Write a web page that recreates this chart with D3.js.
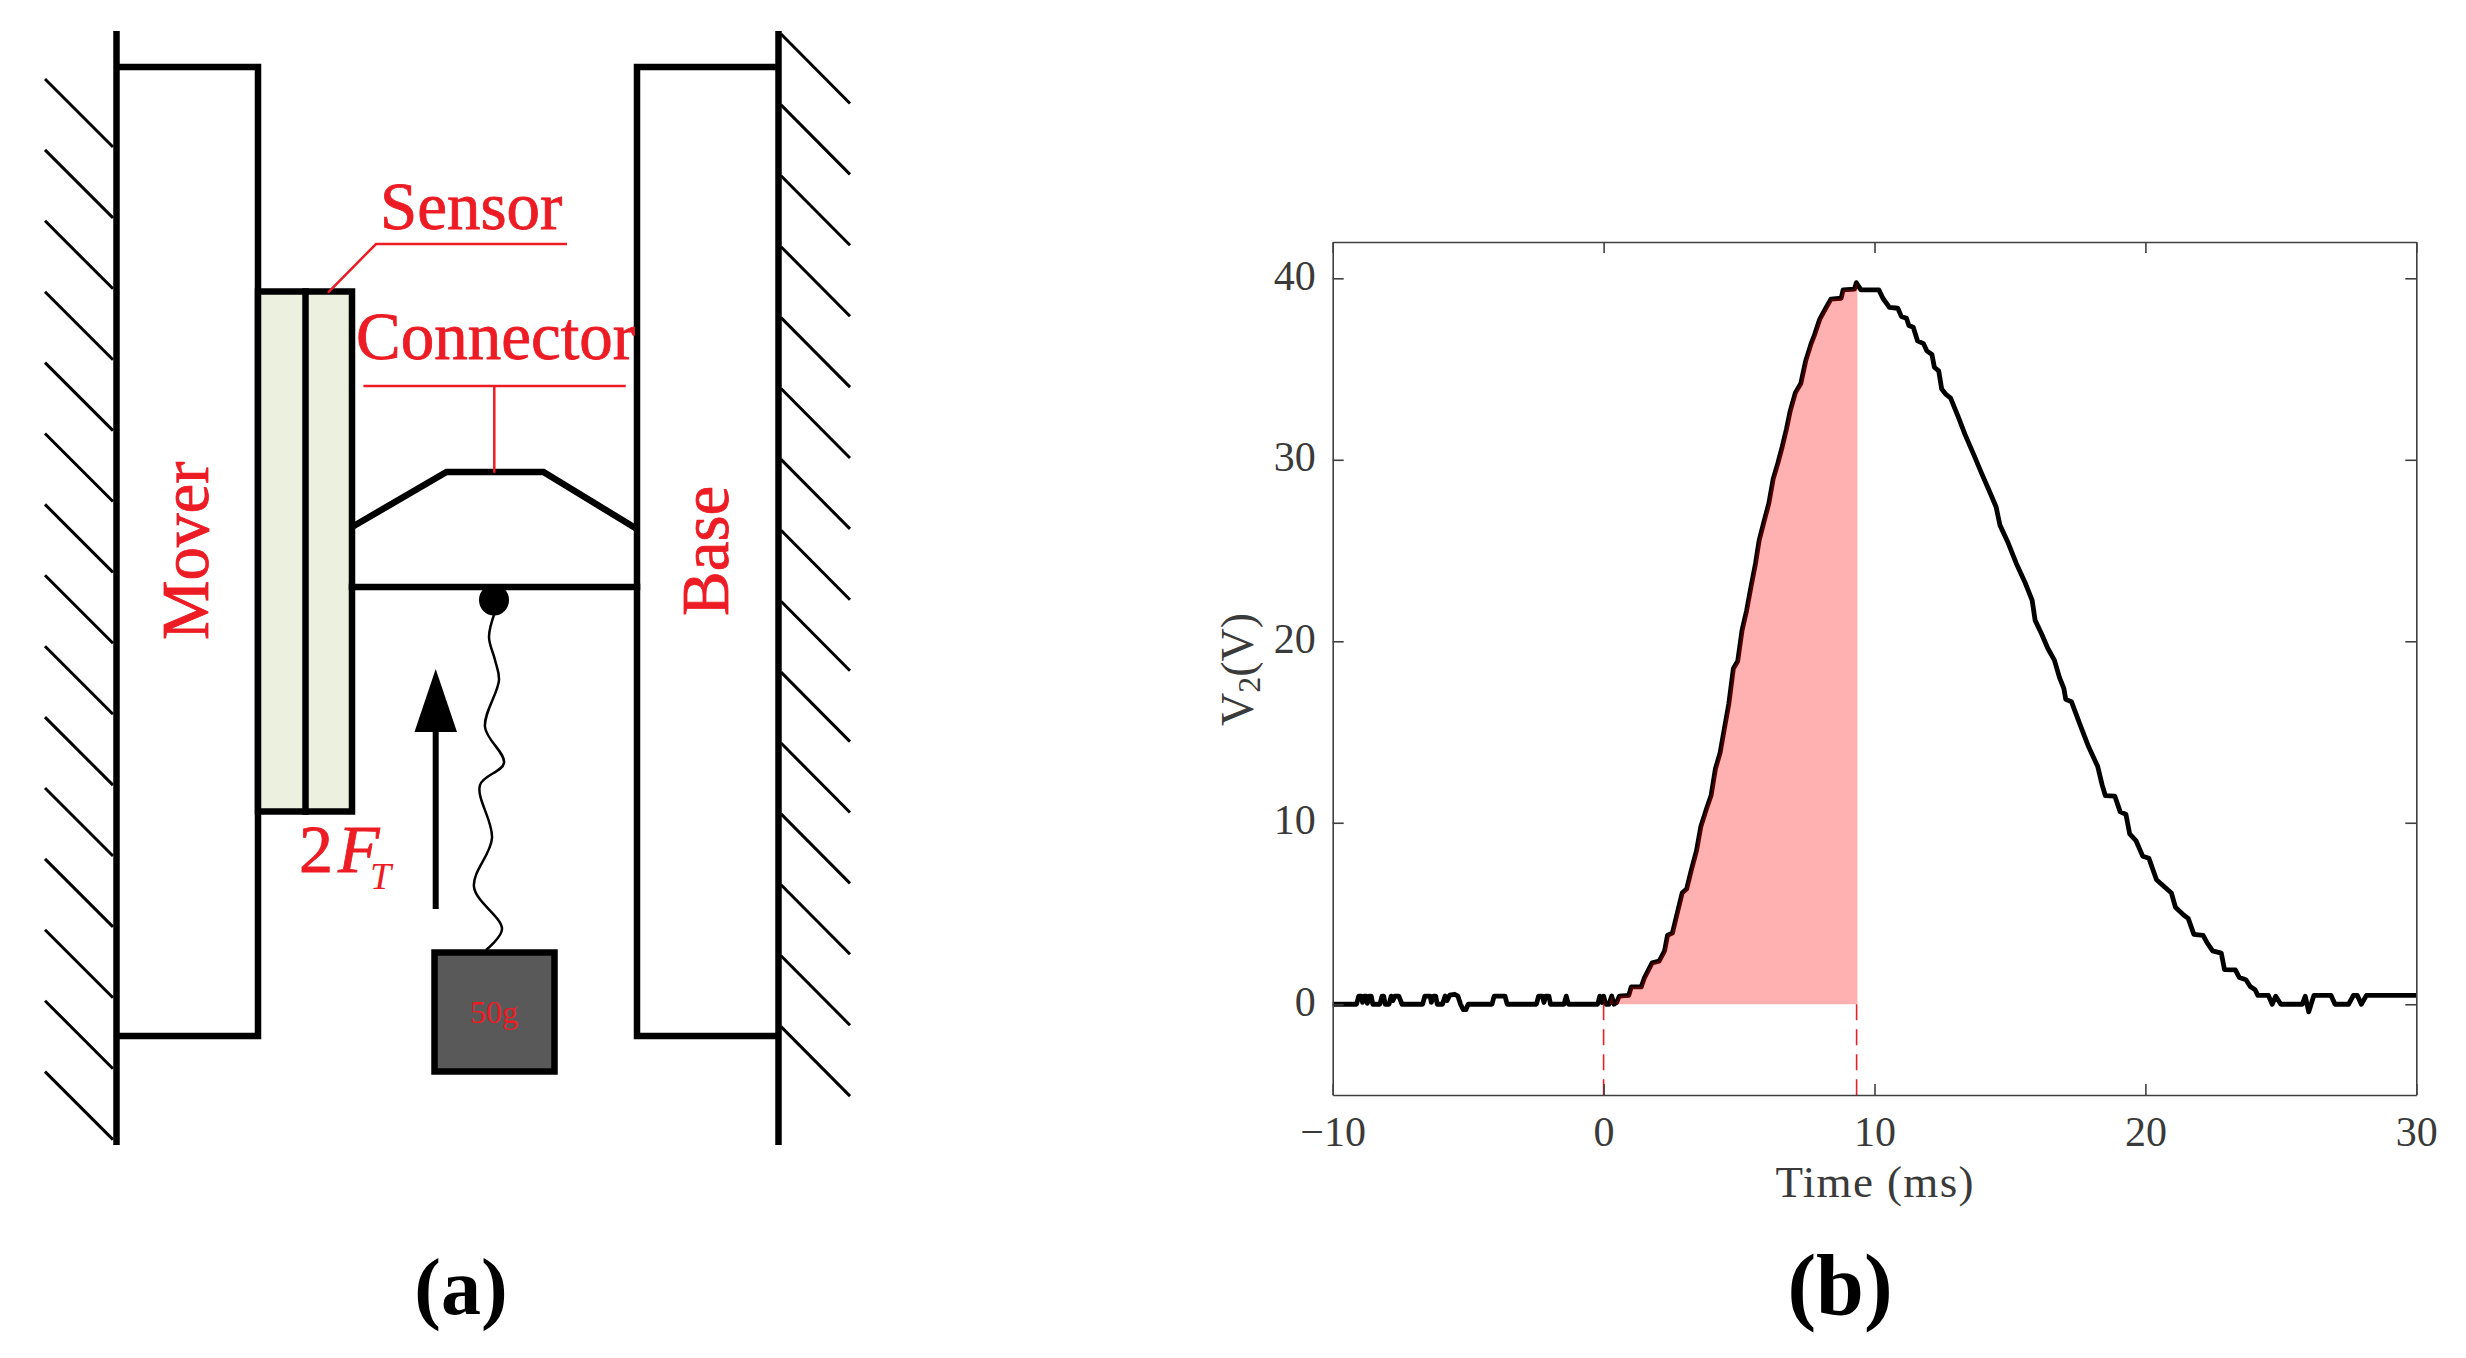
<!DOCTYPE html>
<html>
<head>
<meta charset="utf-8">
<script src="https://cdn.jsdelivr.net/npm/d3@7"></script>
<style>
    html, body { margin: 0; padding: 0; background: #fff; }
    svg { display: block; }
</style>
</head>
<body>
<svg id="fig"></svg>
<script>
//trace values
var TIMES = [-10, -9.12, -9.04, -8.94, -8.9, -8.84, -8.76, -8.72, -8.66, -8.58, -8.52,
    -8.26, -8.18, -8.12, -8.06, -7.92, -7.84, -7.78, -7.7, -7.56, -7.44,
    -6.68, -6.6, -6.4, -6.36, -6.28, -6.2, -6.14, -5.95, -5.85, -5.78, -5.68, -5.5, -5.38, -5.28, -5.18, -5.08, -5,
    -4.12, -4.04, -3.64, -3.56, -2.48, -2.4, -2.26, -2.2, -2.14, -2.02, -1.96,
    -1.46, -1.38, -1.3, -0.22, -0.14, -0.06, 0, 0.08, 0.2, 0.3, 0.38, 0.48, 0.58,
    0.93, 1.02, 1.39, 1.51, 1.79, 2.05, 2.25, 2.36, 2.54, 2.74, 2.9, 3.07, 3.23, 3.43, 3.59, 3.8, 3.97,
    4.13, 4.3, 4.46, 4.62, 4.79, 4.95, 5.11, 5.28, 5.44, 5.61, 5.74, 5.93, 6.1, 6.26, 6.43, 6.59, 6.75, 6.89,
    7.08, 7.28, 7.46, 7.66, 7.79, 7.98, 8.2, 8.39, 8.77, 8.84, 9.26, 9.33, 9.37,
    9.5, 10.16, 10.31, 10.55, 10.86, 10.99, 11.18, 11.27, 11.43, 11.59, 11.81, 11.93, 12.12, 12.21, 12.37, 12.48, 12.64, 12.81,
    13.11, 13.34, 13.66, 13.97, 14.29, 14.49, 14.63, 14.91, 15.23, 15.54, 15.82, 15.93, 16.17, 16.4, 16.64,
    16.83, 16.99, 17.06, 17.27, 17.58, 17.9, 18.24, 18.4, 18.52, 18.87, 19.07, 19.28, 19.42, 19.65, 19.9,
    20.13, 20.41, 20.72, 20.96, 21.11, 21.42, 21.58, 21.79, 22.13, 22.29, 22.48, 22.8, 22.92, 23.32, 23.47, 23.71, 23.87, 24.05, 24.15,
    24.54, 24.68, 24.81, 25, 25.79, 25.9, 26.03, 26.22, 26.85, 27, 27.5, 27.68, 27.82, 27.97, 28.16, 30];
var VOLTS = [0, 0, 0.45, 0.45, 0.1, 0.45, 0.45, 0.05, 0.45, 0.45, 0,
    0, 0.45, 0.45, 0, 0, 0.45, 0.2, 0.45, 0.45, 0,
    0, 0.45, 0.45, 0.1, 0.45, 0.45, 0, 0, 0.45, 0.2, 0.5, 0.55, 0.45, 0, -0.3, -0.3, 0,
    0, 0.45, 0.45, 0, 0, 0.45, 0.45, 0.1, 0.45, 0.45, 0,
    0, 0.45, 0, 0, 0.45, 0.1, 0.45, 0, 0, 0.45, 0, 0.1, 0.45,
    0.49, 0.96, 0.96, 1.47, 2.28, 2.38, 2.94, 3.8, 3.92, 5.15, 6.13, 6.37, 7.35, 8.46, 9.8, 10.78, 11.52,
    12.99, 13.85, 15.2, 16.54, 18.5, 18.9, 20.6, 21.7, 23, 24.3, 25.55, 26.65, 27.6, 28.95, 29.8, 30.7, 31.7, 32.7,
    33.7, 34.2, 35.45, 36.4, 36.9, 37.75, 38.35, 38.85, 38.9, 39.36, 39.4, 39.76, 39.66,
    39.36, 39.36, 38.9, 38.4, 38.35, 37.9, 37.8, 37.4, 37.3, 36.55, 36.4, 36, 35.8, 35.1, 34.9, 33.9, 33.6, 33.4,
    32.3, 31.4, 30.3, 29.2, 28.1, 27.4, 26.4, 25.5, 24.3, 23.3, 22.25, 21.15, 20.4, 19.6, 18.96,
    18, 17.4, 16.8, 16.67, 15.44, 14.2, 13.1, 12.1, 11.5, 11.47, 10.6, 10.47, 9.39, 9.02, 8.16,
    8.04, 6.86, 6.45, 6.13, 5.34, 4.9, 4.73, 3.85, 3.8, 3.36, 2.94, 2.82, 1.91, 1.89, 1.47, 1.35, 0.98, 0.8, 0.49,
    0.49, 0, 0.44, 0, 0, 0.44, -0.42, 0.49, 0.49, 0, 0, 0.49, 0.49, 0, 0.49, 0.49];
var X_TICKS = [-10, 0, 10, 20, 30];
var Y_TICKS = [0, 10, 20, 30, 40];
var X_LIMITS = [-10, 30];
var Y_LIMITS = [-5, 42];
var SHADE_START = 0;
var SHADE_END = 9.37;
var MARKERS = [0, 9.34];

var WIDTH = 2466, HEIGHT = 1358;
var PLOT = { left: 1332.7, right: 2416.3, top: 242, bottom: 1095 };
var SERIF = "'Liberation Serif', serif";
var RED = "#ed1c24";
var AXIS_COLOR = "#404040";
var TEXT_COLOR = "#3a3a3a";

var svg = d3.select("#fig")
    .attr("width", WIDTH)
    .attr("height", HEIGHT)
    .attr("viewBox", "0 0 " + WIDTH + " " + HEIGHT);

drawSchematic();
drawTrace();
drawCaptions();

function segment(parent, x1, y1, x2, y2, color, width) {
    return parent.append("line")
        .attr("x1", x1).attr("y1", y1)
        .attr("x2", x2).attr("y2", y2)
        .style("stroke", color)
        .style("stroke-width", width)
        .style("stroke-linecap", "square");
}

function label(parent, txt, x, y, size, color) {
    return parent.append("text")
        .attr("x", x).attr("y", y)
        .style("font-family", SERIF)
        .style("font-size", size + "px")
        .style("fill", color)
        .text(txt);
}

//red labels on the rig are a little heavier than the plain font
function redLabel(parent, txt, x, y, size) {
    return label(parent, txt, x, y, size, RED)
        .style("stroke", RED)
        .style("stroke-width", 0.8);
}

//panel (a), the drawing of the test rig
function drawSchematic() {
    var g = svg.append("g").attr("class", "schematic");
    var i;

    //hatching behind both walls
    for (i = 0; i < 15; i++) {
        segment(g, 45, 79 + i * 70.9, 113, 147 + i * 70.9, "#000", 3).style("stroke-linecap", "butt");
        segment(g, 781, 34 + i * 70.9, 850, 103.5 + i * 70.9, "#000", 3).style("stroke-linecap", "butt");
    }
    //walls
    segment(g, 116.5, 31, 116.5, 1145, "#000", 6.5).style("stroke-linecap", "butt");
    segment(g, 778.5, 31, 778.5, 1145, "#000", 6.5).style("stroke-linecap", "butt");

    //mover and base outlines
    g.append("path")
        .attr("d", "M116.5,67H258V1036H116.5M778.5,67H637V1036H778.5")
        .style("fill", "none").style("stroke", "#000").style("stroke-width", 6.5);

    //sensor plates
    g.append("rect")
        .attr("x", 258).attr("y", 291.5)
        .attr("width", 94).attr("height", 520)
        .style("fill", "#ebf1de")
        .style("stroke", "#000").style("stroke-width", 6.5);
    segment(g, 305.5, 291.5, 305.5, 811.5, "#000", 6.5);

    //connector and beam
    g.append("path")
        .attr("d", "M352,527L446.5,472H543.5L637,529")
        .style("fill", "none").style("stroke", "#000").style("stroke-width", 6.5);
    segment(g, 352, 587, 637, 587, "#000", 6.5);
    g.append("ellipse")
        .attr("cx", 494).attr("cy", 600).attr("rx", 15).attr("ry", 15.5)
        .style("fill", "#000");

    //string down to the weight
    var stringPath = d3.line().curve(d3.curveCatmullRom);
    g.append("path")
        .attr("d", stringPath([[495, 612], [489, 637], [495, 660], [499, 680], [485, 727], [504, 763],
            [480, 785], [492, 838], [474, 887], [502, 929], [486, 950]]))
        .style("fill", "none").style("stroke", "#000").style("stroke-width", 2.5);

    //weight
    g.append("rect")
        .attr("x", 434.5).attr("y", 952.5)
        .attr("width", 120).attr("height", 119)
        .style("fill", "#595959")
        .style("stroke", "#000").style("stroke-width", 6.5);
    label(g, "50g", 494, 1023, 32, RED).attr("text-anchor", "middle");

    //force arrow
    segment(g, 435.7, 732, 435.7, 906, "#000", 6);
    g.append("path")
        .attr("d", "M435.7,669L457,732H414.5Z")
        .style("fill", "#000");

    //red leaders
    g.append("path")
        .attr("d", "M328,292.7L376,244H567")
        .style("fill", "none").style("stroke", RED).style("stroke-width", 2.5);
    g.append("path")
        .attr("d", "M363.4,386H625.7M494.3,386V472.7")
        .style("fill", "none").style("stroke", RED).style("stroke-width", 2.5);

    //labels
    redLabel(g, "Sensor", 380, 228.5, 67);
    redLabel(g, "Connector", 356, 358.6, 67);
    redLabel(g, "Mover", 0, 0, 67)
        .attr("transform", "translate(207.8,640) rotate(-90)");
    redLabel(g, "Base", 0, 0, 67)
        .attr("transform", "translate(728,616) rotate(-90)");

    //2F with subscript T, upright 2 and italic letters
    var force = redLabel(g, "", 299, 871.5, 68);
    force.append("tspan").text("2");
    force.append("tspan").attr("dx", 5).style("font-style", "italic").text("F");
    force.append("tspan")
        .attr("dx", -9.5).attr("dy", 17)
        .style("font-style", "italic")
        .style("font-size", "38px")
        .style("stroke-width", 0)
        .text("T");
}

//panel (b), the voltage trace
function drawTrace() {
    var x = d3.scaleLinear().domain(X_LIMITS).range([PLOT.left, PLOT.right]);
    var y = d3.scaleLinear().domain(Y_LIMITS).range([PLOT.bottom, PLOT.top]);
    var points = TIMES.map(function (t, i) { return [t, VOLTS[i]]; });
    var g = svg.append("g").attr("class", "trace");

    var curve = d3.line()
        .x(function (d) { return x(d[0]); })
        .y(function (d) { return y(d[1]); });
    g.append("path")
        .datum(points)
        .attr("d", curve)
        .style("fill", "none")
        .style("stroke", "#000")
        .style("stroke-width", 4.8)
        .style("stroke-linejoin", "round");

    //shaded rise, it sits on top of the line like in the original
    var shaded = points.filter(function (d) { return d[0] >= SHADE_START && d[0] <= SHADE_END; });
    var shade = d3.area()
        .x(function (d) { return x(d[0]); })
        .y0(y(0))
        .y1(function (d) { return y(Math.max(d[1], 0)); });
    g.append("path")
        .datum(shaded)
        .attr("d", shade)
        .style("fill", "#ff0000")
        .style("fill-opacity", 0.31);

    //dashed drops to the time axis
    g.selectAll(".marker")
        .data(MARKERS)
        .enter().append("line")
        .attr("class", "marker")
        .attr("x1", function (d) { return x(d); })
        .attr("x2", function (d) { return x(d); })
        .attr("y1", y(0))
        .attr("y2", PLOT.bottom)
        .style("stroke", "#e8202a")
        .style("stroke-width", 1.6)
        .style("stroke-dasharray", "16,9");

    //box with inward ticks on all four sides
    var bottom = d3.axisBottom(x).tickValues(X_TICKS).tickSizeInner(-11).tickSizeOuter(0).tickPadding(21);
    var top = d3.axisTop(x).tickValues(X_TICKS).tickSizeInner(-11).tickSizeOuter(0).tickFormat("");
    var left = d3.axisLeft(y).tickValues(Y_TICKS).tickSizeInner(-11).tickSizeOuter(0).tickPadding(17);
    var right = d3.axisRight(y).tickValues(Y_TICKS).tickSizeInner(-11).tickSizeOuter(0).tickFormat("");

    var axes = [
        [bottom, 0, PLOT.bottom],
        [top, 0, PLOT.top],
        [left, PLOT.left, 0],
        [right, PLOT.right, 0]
    ];
    axes.forEach(function (a) {
        var ax = g.append("g")
            .attr("transform", "translate(" + a[1] + "," + a[2] + ")")
            .call(a[0]);
        ax.selectAll("path, line")
            .style("stroke", AXIS_COLOR)
            .style("stroke-width", 1.6);
        ax.selectAll("text")
            .style("font-family", SERIF)
            .style("font-size", "42px")
            .style("fill", TEXT_COLOR);
    });
    //left tick labels sit slightly above their ticks
    g.selectAll("text").filter(function () { return d3.select(this).attr("dy") === "0.32em" && d3.select(this).attr("x") < 0; })
        .attr("dy", "0.26em");

    //axis titles
    label(g, "Time (ms)", (PLOT.left + PLOT.right) / 2, 1197, 45, TEXT_COLOR)
        .attr("text-anchor", "middle")
        .attr("textLength", 198)
        .attr("lengthAdjust", "spacing");
    var yTitle = label(g, "", 0, 0, 46, TEXT_COLOR)
        .attr("transform", "translate(1253,726) rotate(-90)");
    yTitle.append("tspan").text("V");
    yTitle.append("tspan").attr("dy", 7).style("font-size", "32px").text("2");
    yTitle.append("tspan").attr("dy", -7).text("(V)");
}

//(a) and (b)
function drawCaptions() {
    label(svg, "(a)", 461, 1314, 80, "#000")
        .attr("text-anchor", "middle")
        .style("font-weight", "bold");
    label(svg, "(b)", 1840, 1314, 86, "#000")
        .attr("text-anchor", "middle")
        .style("font-weight", "bold");
}
</script>
</body>
</html>
